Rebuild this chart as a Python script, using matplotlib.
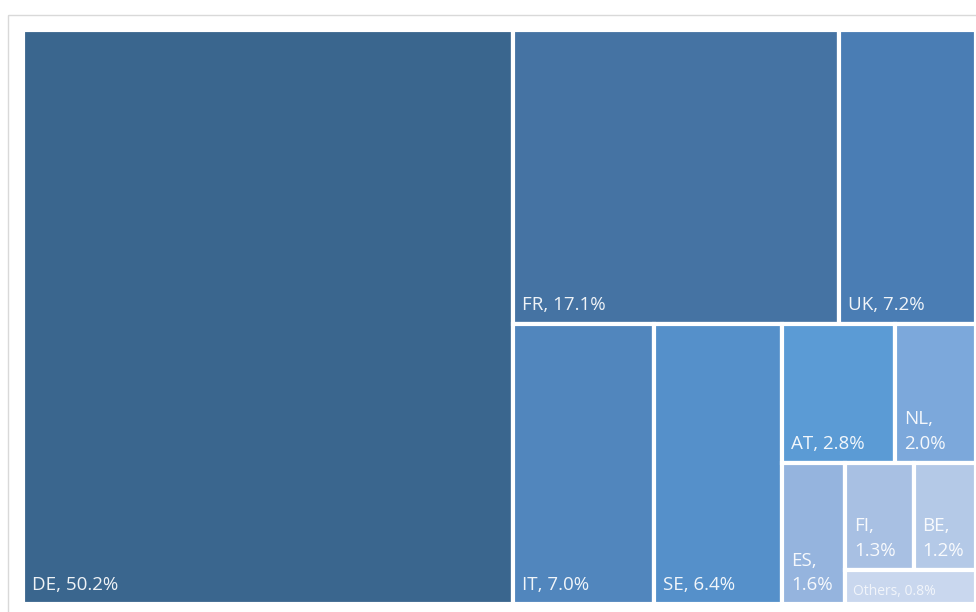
import matplotlib.pyplot as plt
from matplotlib.patches import Rectangle

# share of total, per country
labels = ['DE', 'FR', 'UK', 'IT', 'SE', 'AT', 'NL', 'ES', 'FI', 'BE', 'Others']
shares = [50.2, 17.1, 7.2, 7.0, 6.4, 2.8, 2.0, 1.6, 1.3, 1.2, 0.8]
colors = ['#3A668E', '#4573A3', '#4A7DB4', '#5186BD', '#5590CA', '#5B9BD5',
          '#7CA8DB', '#95B4DE', '#A8C0E3', '#B4C9E7', '#C9D7EE']

val = dict(zip(labels, shares))

# nesting of the tiles: ('h', ...) splits left->right, ('v', ...) top->bottom
layout = ('h', 'DE',
          ('v', ('h', 'FR', 'UK'),
                ('h', 'IT', 'SE',
                      ('v', ('h', 'AT', 'NL'),
                            ('h', 'ES', ('v', ('h', 'FI', 'BE'), 'Others'))))))


def total(node):
    if isinstance(node, str):
        return val[node]
    return sum(total(c) for c in node[1:])


def place(node, x, y, w, h, out):
    if isinstance(node, str):
        out[node] = (x, y, w, h)
        return
    kids = node[1:]
    tot = total(node)
    pos = 0.0
    for c in kids:
        f = total(c) / tot
        if node[0] == 'h':
            place(c, x + pos * w, y, f * w, h, out)
        else:
            place(c, x, y + pos * h, w, f * h, out)
        pos += f


W, H = 976, 612
fig = plt.figure(figsize=(W / 100, H / 100), dpi=100)
ax = fig.add_axes([0, 0, 1, 1])
ax.set_xlim(0, W)
ax.set_ylim(H, 0)
ax.axis('off')

# chart frame
ax.add_patch(Rectangle((7.5, 14.5), 990, 620, fill=False, ec='#D9D9D9', lw=1))

rects = {}
place(layout, 22.5, 29.5, 954, 574.5, rects)

small = {'NL', 'ES', 'FI', 'BE'}
txt = dict(color='white', family='Open Sans', alpha=0.92, va='baseline')
for lab, col in zip(labels, colors):
    x, y, w, h = rects[lab]
    ax.add_patch(Rectangle((x, y), w, h, fc=col, ec='white', lw=3))
    if lab == 'Others':
        ax.text(x + 8, y + h - 9, f'{lab}, {val[lab]}%', fontsize=10,
                **{**txt, 'alpha': 0.75})
    elif lab in small:
        ax.text(x + 9, y + h - 14, f'{lab},\n{val[lab]}%', fontsize=13.5,
                linespacing=1.45, **txt)
    else:
        ax.text(x + 9, y + h - 14, f'{lab}, {val[lab]}%', fontsize=13.5, **txt)

fig.savefig('out.png', dpi=100, facecolor='white')
